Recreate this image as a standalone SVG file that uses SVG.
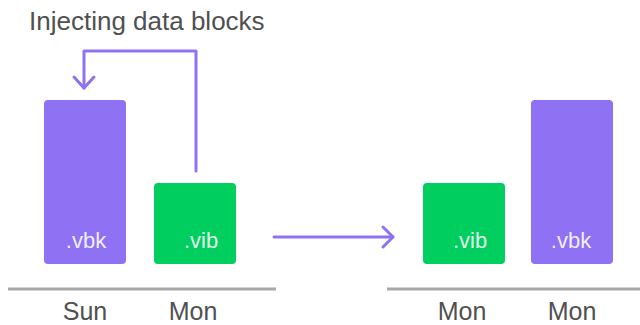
<svg xmlns="http://www.w3.org/2000/svg" width="640" height="325" viewBox="0 0 640 325">
<style>
.lbl{font-family:"Liberation Sans",Arial,sans-serif;font-size:25px;fill:#505050;text-anchor:middle}
.in{font-family:"Liberation Sans",Arial,sans-serif;font-size:22px;fill:#ffffff;fill-opacity:0.9;text-anchor:middle}
.vbk{fill:#8E72F3}
.vib{fill:#00CE5E}
.base{stroke:#A8A8A8;stroke-width:3;fill:none}
.con{stroke:#8E72F3;stroke-width:3;fill:none;stroke-linecap:round;stroke-linejoin:round}
</style>
<rect width="640" height="325" fill="#ffffff"/>
<text x="29" y="30" font-family="Liberation Sans,Arial,sans-serif" font-size="26" fill="#505050">Injecting data blocks</text>
<g id="baselines">
<line class="base" x1="8" y1="289" x2="276" y2="289"/>
<line class="base" x1="387" y1="289" x2="640" y2="289"/>
</g>
<g id="sun-vbk">
<rect class="vbk" x="44" y="100" width="82" height="164" rx="4"/>
<text class="in" x="86" y="248">.vbk</text>
</g>
<g id="mon-vib">
<rect class="vib" x="154" y="183" width="82" height="81" rx="4"/>
<text class="in" x="201" y="248">.vib</text>
</g>
<g id="mon-vib-2">
<rect class="vib" x="423" y="183" width="82" height="81" rx="4"/>
<text class="in" x="470" y="248">.vib</text>
</g>
<g id="mon-vbk-2">
<rect class="vbk" x="531" y="100" width="82" height="164" rx="4"/>
<text class="in" x="571" y="248">.vbk</text>
</g>
<g id="labels">
<text class="lbl" x="85" y="320">Sun</text>
<text class="lbl" x="193" y="320">Mon</text>
<text class="lbl" x="462" y="320">Mon</text>
<text class="lbl" x="572" y="320">Mon</text>
</g>
<g id="connectors">
<path class="con" d="M196 171 V51 H84 V88"/>
<path class="con" d="M74 77 L84 88 L94 77"/>
<path class="con" d="M274 237 H393"/>
<path class="con" d="M383 227 L393 237 L383 247"/>
</g>
</svg>
